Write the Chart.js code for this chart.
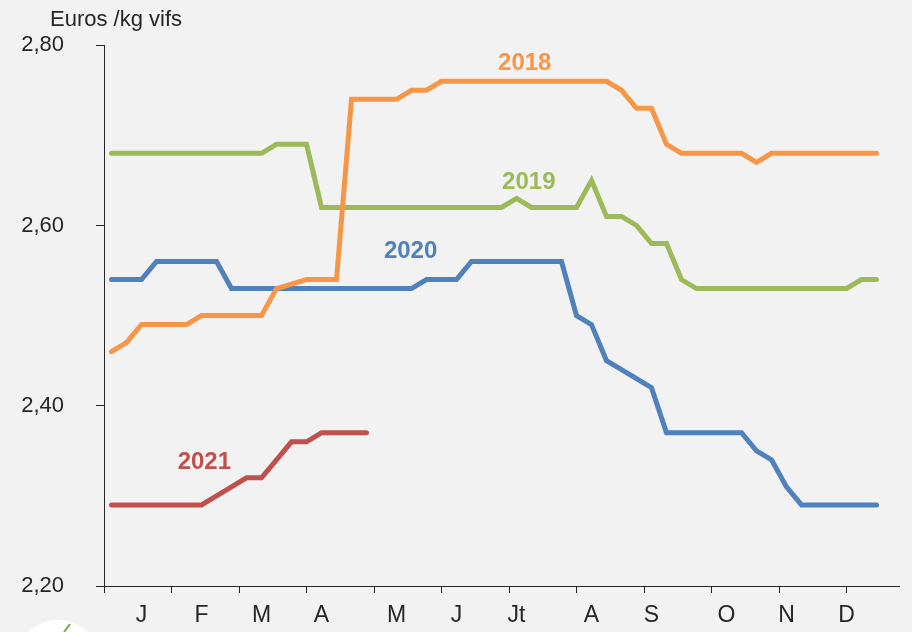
<!DOCTYPE html>
<html>
<head>
<meta charset="utf-8">
<script src="https://cdn.jsdelivr.net/npm/chart.js@4/dist/chart.umd.min.js"></script>
<style>
  html, body { margin: 0; padding: 0; background: #f2f2f2; }
  #wrap { width: 912px; height: 632px; }
</style>
</head>
<body>
<div id="wrap"><canvas id="c" width="912" height="632"></canvas></div>
<script>
// ---- data ----
const weeks = [1,2,3,4,5,6,7,8,9,10,11,12,13,14,15,16,17,18,19,20,21,22,23,24,25,26,
               27,28,29,30,31,32,33,34,35,36,37,38,39,40,41,42,43,44,45,46,47,48,49,50,51,52];
const monthLabels = ['J','F','M','A','M','J','Jt','A','S','O','N','D'];
const monthLabelWeeks = [3,7,11,15,20,24,28,33,37,42,46,50];
const monthTickWeeks = [0.5,5,9.5,14,18.5,23,27.5,32,36.5,41,45.5,50];
const yTickValues = [2.20,2.40,2.60,2.80];
const seriesNames = ['2018','2019','2020','2021'];

const price2018 = [2.46,2.47,2.49,2.49,2.49,2.49,2.50,2.50,2.50,2.50,2.50,2.53,2.535,2.54,2.54,2.54,
                   2.74,2.74,2.74,2.74,2.75,2.75,2.76,2.76,2.76,2.76,2.76,2.76,2.76,2.76,2.76,2.76,2.76,2.76,
                   2.75,2.73,2.73,2.69,2.68,2.68,2.68,2.68,2.68,2.67,2.68,2.68,2.68,2.68,2.68,2.68,2.68,2.68];
const price2019 = [2.68,2.68,2.68,2.68,2.68,2.68,2.68,2.68,2.68,2.68,2.68,2.69,2.69,2.69,
                   2.62,2.62,2.62,2.62,2.62,2.62,2.62,2.62,2.62,2.62,2.62,2.62,2.62,2.63,2.62,2.62,2.62,2.62,
                   2.65,2.61,2.61,2.60,2.58,2.58,2.54,2.53,2.53,2.53,2.53,2.53,2.53,2.53,2.53,2.53,2.53,2.53,2.54,2.54];
const price2020 = [2.54,2.54,2.54,2.56,2.56,2.56,2.56,2.56,2.53,2.53,2.53,2.53,2.53,2.53,2.53,2.53,2.53,2.53,2.53,2.53,2.53,
                   2.54,2.54,2.54,2.56,2.56,2.56,2.56,2.56,2.56,2.56,2.50,2.49,2.45,2.44,2.43,2.42,
                   2.37,2.37,2.37,2.37,2.37,2.37,2.35,2.34,2.31,2.29,2.29,2.29,2.29,2.29,2.29];
const price2021 = [2.29,2.29,2.29,2.29,2.29,2.29,2.29,2.30,2.31,2.32,2.32,2.34,2.36,2.36,2.37,2.37,2.37,2.37];

// ---- styling / annotation anchors (in data space) ----
const colors = ['#F79646','#9BBB59','#4F81BD','#C0504D'];
const nameAnchors = [
  {week: 28.55, value: 2.7797},
  {week: 28.82, value: 2.6483},
  {week: 20.94, value: 2.5714},
  {week: 7.19,  value: 2.337}
];
const axisColor = '#262626';
const textColor = '#262626';
const FONT = '"Liberation Sans", Arial, sans-serif';

function toPoints(vals) { return vals.map((v, i) => ({x: weeks[i], y: v})); }
const allSeries = [price2018, price2019, price2020, price2021];

const bgPlugin = {
  id: 'bg',
  beforeDraw(chart) {
    const ctx = chart.ctx;
    ctx.save();
    ctx.fillStyle = '#f2f2f2';
    ctx.fillRect(0, 0, chart.width, chart.height);
    // small logo badge partially visible at bottom-left
    ctx.fillStyle = '#ffffff';
    ctx.beginPath();
    ctx.ellipse(58, 652, 38, 32, 0, 0, Math.PI * 2);
    ctx.fill();
    ctx.strokeStyle = '#7aa83a';
    ctx.lineWidth = 2;
    ctx.beginPath();
    ctx.moveTo(64, 632); ctx.lineTo(70, 624);
    ctx.stroke();
    ctx.restore();
  }
};

const textPlugin = {
  id: 'texts',
  afterDatasetsDraw(chart) {
    const ctx = chart.ctx;
    const xs = chart.scales.x, ys = chart.scales.y;
    ctx.save();
    ctx.fillStyle = textColor;
    ctx.font = '22px ' + FONT;
    ctx.textAlign = 'left';
    ctx.textBaseline = 'alphabetic';
    ctx.fillText('Euros /kg vifs', 50, 26);
    ctx.font = 'bold 24px ' + FONT;
    ctx.textAlign = 'center';
    ctx.textBaseline = 'middle';
    seriesNames.forEach((n, i) => {
      ctx.fillStyle = colors[i];
      ctx.fillText(n, xs.getPixelForValue(nameAnchors[i].week), ys.getPixelForValue(nameAnchors[i].value));
    });
    ctx.restore();
  }
};

new Chart(document.getElementById('c'), {
  type: 'line',
  data: {
    datasets: allSeries.map((vals, i) => ({
      label: seriesNames[i],
      data: toPoints(vals),
      borderColor: colors[i],
      backgroundColor: colors[i],
      borderWidth: 5,
      pointRadius: 0,
      tension: 0,
      borderCapStyle: 'round',
      borderJoinStyle: 'miter',
      fill: false
    }))
  },
  options: {
    responsive: false,
    devicePixelRatio: 1,
    animation: false,
    layout: { padding: { top: 44, right: 13, bottom: 0, left: 0 } },
    plugins: { legend: { display: false }, tooltip: { enabled: false }, title: { display: false } },
    scales: {
      x: {
        type: 'linear',
        min: 0.5,
        max: 53.5,
        afterFit(s) { s.height = 46; },
        afterBuildTicks(s) {
          const vals = Array.from(new Set(monthTickWeeks.concat(monthLabelWeeks))).sort((a, b) => a - b);
          s.ticks = vals.map(v => ({ value: v }));
        },
        ticks: {
          autoSkip: false,
          maxRotation: 0,
          minRotation: 0,
          padding: 9,
          color: textColor,
          font: { family: FONT, size: 23 },
          callback(value) {
            const k = monthLabelWeeks.indexOf(value);
            return k >= 0 ? monthLabels[k] : '';
          }
        },
        grid: {
          drawOnChartArea: false,
          drawTicks: true,
          tickLength: 7,
          lineWidth: 1,
          color(ctx) {
            return ctx.tick && monthTickWeeks.includes(ctx.tick.value) ? axisColor : 'rgba(0,0,0,0)';
          }
        },
        border: { display: true, color: axisColor, width: 1 }
      },
      y: {
        type: 'linear',
        min: 2.2,
        max: 2.8,
        afterFit(s) { s.width = 104; },
        afterBuildTicks(s) { s.ticks = yTickValues.map(v => ({ value: v })); },
        ticks: {
          padding: 32,
          color: textColor,
          font: { family: FONT, size: 22 },
          callback(value) { return value.toFixed(2).replace('.', ','); }
        },
        grid: {
          drawOnChartArea: false,
          drawTicks: true,
          tickLength: 8,
          color: axisColor,
          lineWidth: 1
        },
        border: { display: true, color: axisColor, width: 1 }
      }
    }
  },
  plugins: [bgPlugin, textPlugin]
});
</script>
</body>
</html>
